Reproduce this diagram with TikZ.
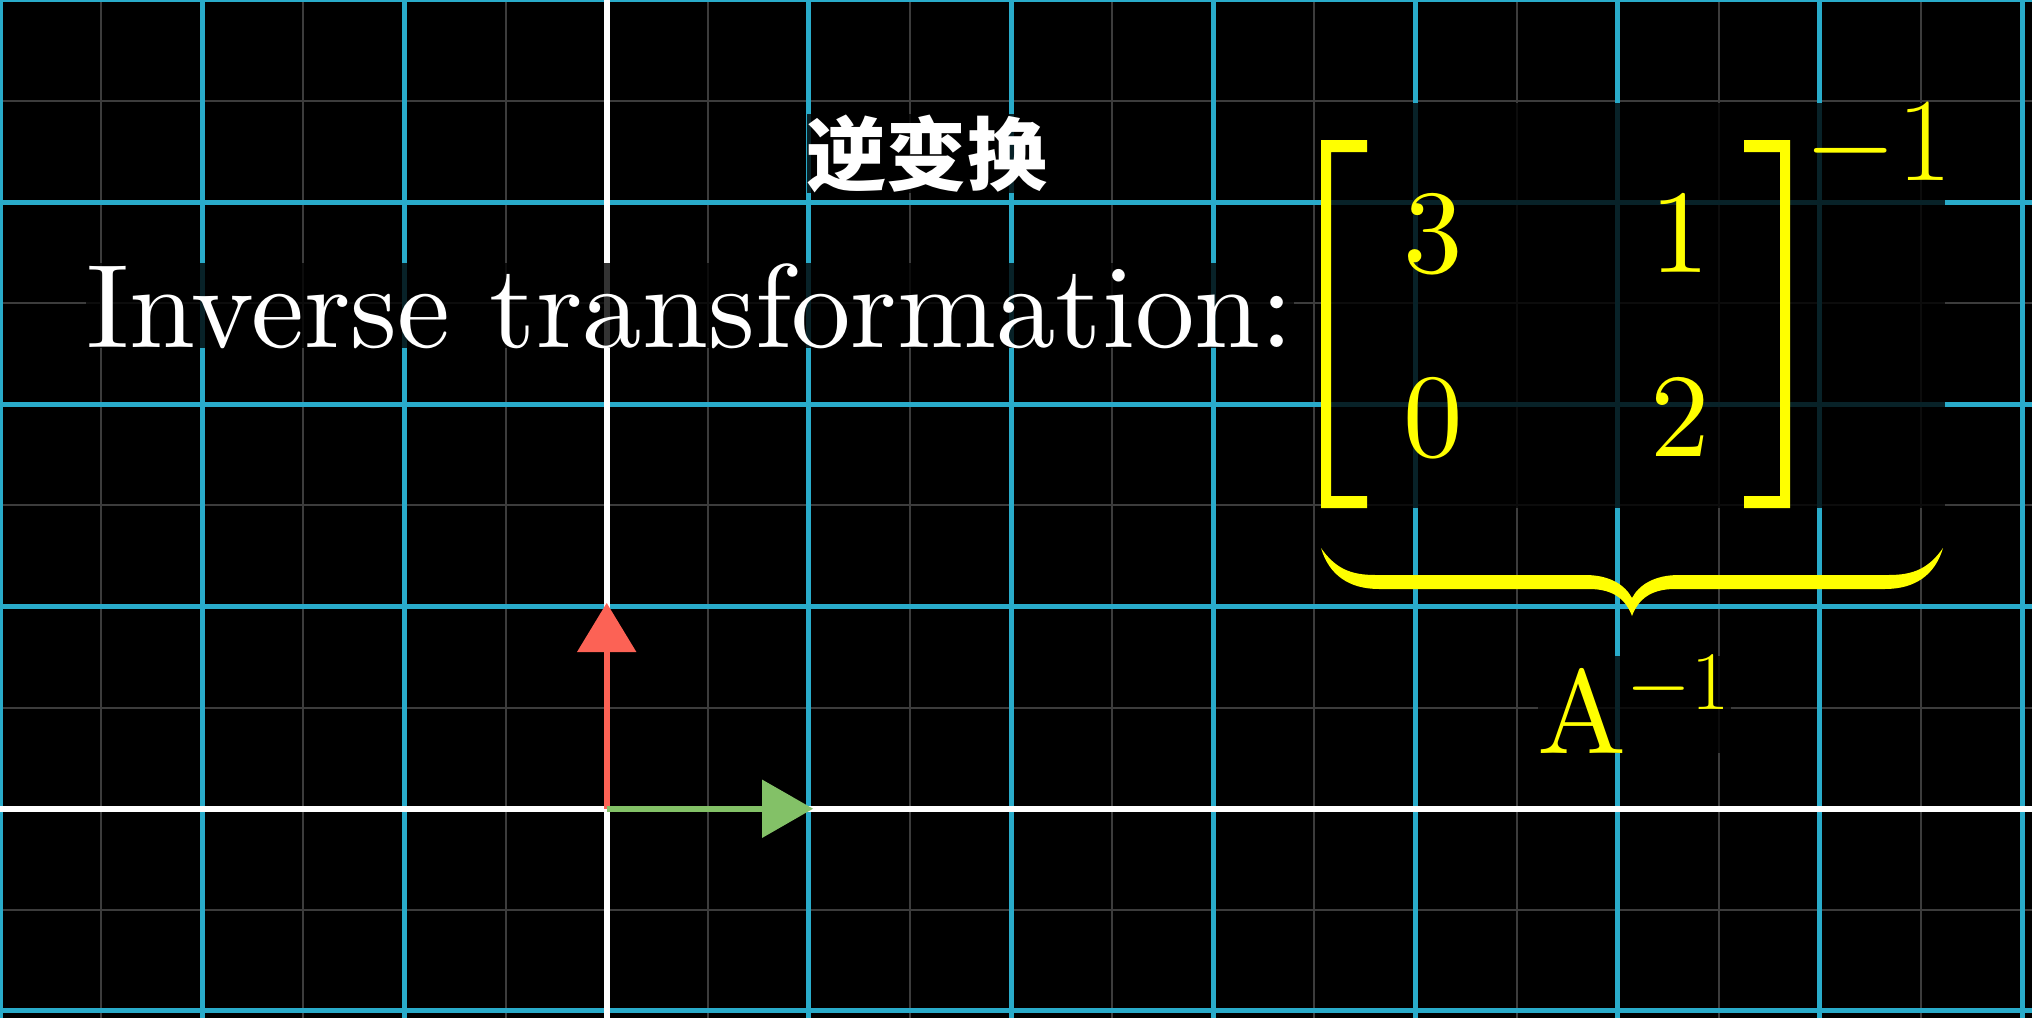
\RequirePackage{fix-cm}
\documentclass[tikz,border=0pt]{standalone}
\usepackage{fontspec}
\setmainfont{lmroman10-regular.otf}[BoldFont=lmroman10-bold.otf, ItalicFont=lmroman10-italic.otf]
\newfontfamily\cjk{Noto Sans CJK SC}
\definecolor{gridblue}{HTML}{29ABCA}
\definecolor{minorgray}{HTML}{3C3C3C}
\definecolor{vecred}{HTML}{FC6255}
\definecolor{vecgreen}{HTML}{83C167}
\definecolor{mathyellow}{HTML}{FFFF00}
\newcommand\bigfont{\fontsize{33.8}{41}\selectfont}
\newcommand\cjkfont{\fontsize{22.76}{28}\selectfont\cjk\bfseries}
\tikzset{
  minorline/.style={draw=minorgray, line width=0.57pt},
  majorline/.style={draw=gridblue, line width=1.42pt},
  axisline/.style={draw=white, line width=1.7pt},
  bgtext/.style={fill=black, fill opacity=0.8, text opacity=1, inner sep=0pt},
  yel/.style={text=mathyellow},
  shaft/.style={line width=1.65pt},
}
\begin{document}
\begin{tikzpicture}[x=0.01cm, y=-0.01cm]
\useasboundingbox (0,0) rectangle (2032,1018);
\fill[black] (0,0) rectangle (2032,1018);
\clip (0,0) rectangle (2032,1018);
% minor grid
\foreach \i in {-3,...,7} {
  \draw[minorline] ({606.7+(\i-0.5)*202.2},0) -- ({606.7+(\i-0.5)*202.2},1018);
}
\foreach \j in {-1,...,5} {
  \draw[minorline] (0,{808.7-(\j-0.5)*202.2}) -- (2032,{808.7-(\j-0.5)*202.2});
}
% major grid
\foreach \i in {-3,-2,-1,1,2,3,4,5,6,7} {
  \draw[majorline] ({606.7+\i*202.2},0) -- ({606.7+\i*202.2},1018);
}
\foreach \j in {-1,1,2,3,4} {
  \draw[majorline] (0,{808.7-\j*202.2}) -- (2032,{808.7-\j*202.2});
}
% axes
\draw[axisline] (606.7,0) -- (606.7,1018);
\draw[axisline] (0,808.7) -- (2032,808.7);
% basis vectors
\coordinate (O) at (606.7,808.7);
\coordinate (jbase) at (606.7,651);
\coordinate (ibase) at (762,808.7);
\draw[shaft, vecred] (O) -- (jbase);
\fill[vecred] (606.7,603) -- (577,652) -- (636.4,652) -- cycle;
\draw[shaft, vecgreen] (O) -- (ibase);
\fill[vecgreen] (813,808.7) -- (762,779.5) -- (762,838) -- cycle;
% titles
\node[bgtext, text=white, anchor=center] (cn) at (927,153.5) {\cjkfont 逆变换};
\node[bgtext, text=white, anchor=base west] (label) at (85.5,347) {\bigfont Inverse transformation:};
% matrix background
\fill[black, fill opacity=0.8] (1321,103) rectangle (1945,508);
% brackets
\fill[mathyellow] (1321,140) -- (1367,140) -- (1367,152) -- (1331,152) -- (1331,496) -- (1367,496) -- (1367,508) -- (1321,508) -- cycle;
\fill[mathyellow] (1790,140) -- (1744,140) -- (1744,152) -- (1780,152) -- (1780,496) -- (1744,496) -- (1744,508) -- (1790,508) -- cycle;
% entries
\node[yel, anchor=base, inner sep=0pt] (a11) at (1433,272) {\bigfont 3};
\node[yel, anchor=base, inner sep=0pt] (a12) at (1680,272) {\bigfont 1};
\node[yel, anchor=base, inner sep=0pt] (a21) at (1433,456) {\bigfont 0};
\node[yel, anchor=base, inner sep=0pt] (a22) at (1680,456) {\bigfont 2};
\node[yel, anchor=base west, inner sep=0pt] (supinv) at (1804,180) {\bigfont $-1$};
% brace
\fill[mathyellow] (1321,548)
  .. controls (1335,568) and (1350,575) .. (1375,575)
  -- (1585,575)
  .. controls (1610,575) and (1625,585) .. (1632,598)
  .. controls (1639,585) and (1654,575) .. (1679,575)
  -- (1889,575)
  .. controls (1914,575) and (1929,568) .. (1943,548)
  .. controls (1935,575) and (1915,589) .. (1885,589)
  -- (1675,589)
  .. controls (1650,589) and (1638,600) .. (1632,616)
  .. controls (1626,600) and (1614,589) .. (1589,589)
  -- (1379,589)
  .. controls (1349,589) and (1329,575) .. (1321,548)
  -- cycle;
% A inverse
\node[bgtext, yel, anchor=base west] (Ainv) at (1537,753) {\bigfont $\mathrm{A}^{-1}$};
\end{tikzpicture}
\end{document}
